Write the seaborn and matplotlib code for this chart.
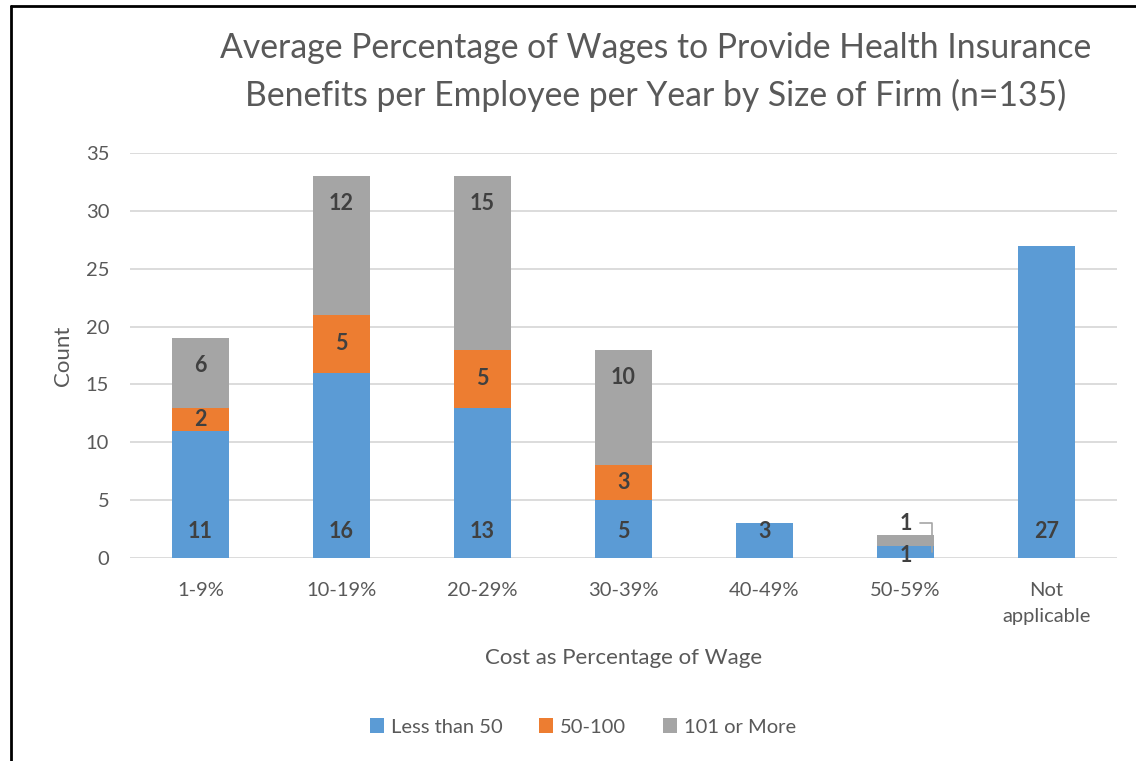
import matplotlib
matplotlib.use("Agg")
import matplotlib.pyplot as plt
from matplotlib.lines import Line2D
from matplotlib.patches import Patch
import seaborn as sns
import pandas as pd

# Survey counts by cost bracket and firm size
categories = ["1-9%", "10-19%", "20-29%", "30-39%", "40-49%", "50-59%", "Not\napplicable"]
less_than_50 = [11, 16, 13, 5, 3, 1, 27]
from_50_to_100 = [2, 5, 5, 3, 0, 0, 0]
over_100 = [6, 12, 15, 10, 0, 1, 0]
series_names = ["Less than 50", "50-100", "101 or More"]
y_ticks = [0, 5, 10, 15, 20, 25, 30, 35]

title_lines = ["Average Percentage of Wages to Provide Health Insurance",
               "Benefits per Employee per Year by Size of Firm (n=135)"]
x_label = "Cost as Percentage of Wage"
y_label = "Count"

colors = ["#5B9BD5", "#ED7D31", "#A5A5A5"]
text_gray = "#595959"
label_dark = "#404040"
grid_gray = "#D9D9D9"
bar_width = 0.4

sns.set_theme(style="white")
plt.rcParams["font.family"] = ["Lato", "DejaVu Sans"]

fig = plt.figure(figsize=(11.36, 7.61), dpi=100)
ax = fig.add_axes([130 / 1136, 1 - 558 / 761, (1117 - 130) / 1136, (558 - 153) / 761])

df = pd.DataFrame({"category": categories, "s0": less_than_50,
                   "s1": from_50_to_100, "s2": over_100})
bottoms1 = df["s0"]
bottoms2 = df["s0"] + df["s1"]

sns.barplot(data=df, x="category", y="s0", color=colors[0], width=bar_width,
            ax=ax, saturation=1, linewidth=0, zorder=3)
sns.barplot(data=df, x="category", y="s1", bottom=bottoms1, color=colors[1],
            width=bar_width, ax=ax, saturation=1, linewidth=0, zorder=3)
sns.barplot(data=df, x="category", y="s2", bottom=bottoms2, color=colors[2],
            width=bar_width, ax=ax, saturation=1, linewidth=0, zorder=3)

ax.set_ylim(0, 35)
ax.set_xlim(-0.5, 6.5)
ax.set_yticks(y_ticks)
ax.set_xticks(range(len(categories)))
ax.set_xticklabels(categories, linespacing=1.7)
ax.yaxis.grid(True, color=grid_gray, linewidth=1.3, zorder=0)
ax.set_axisbelow(True)
for side in ["top", "right", "left", "bottom"]:
    ax.spines[side].set_visible(False)
ax.tick_params(axis="both", length=0, labelsize=14.5, colors=text_gray)
ax.tick_params(axis="x", pad=17)
ax.tick_params(axis="y", pad=15)
ax.set_xlabel(x_label, fontsize=16, color=text_gray, labelpad=16)
ax.set_ylabel(y_label, fontsize=16, color=text_gray, labelpad=9)

label_kw = dict(ha="center", fontsize=15.5, fontweight="bold", color=label_dark, zorder=5)
for i in range(len(categories)):
    v0, v1, v2 = less_than_50[i], from_50_to_100[i], over_100[i]
    # first series: label sits near the base of the bar
    if v0 > 0:
        y0 = 2.3 if v0 >= 3 else 0.25
        ax.text(i, y0, str(v0), va="center", **label_kw)
    # middle series: centred in its segment
    if v1 > 0:
        ax.text(i, v0 + v1 / 2, str(v1), va="center", **label_kw)
    # top series: inside the end of the bar, or callout if too short
    if v2 > 0:
        top = v0 + v1 + v2
        if v2 >= 3:
            ax.text(i, top - 2.4, str(v2), va="center", **label_kw)
        else:
            ly = top + 1.0
            ax.text(i, ly, str(v2), va="center", **label_kw)
            edge = i + bar_width / 2 - 0.01
            ax.plot([i + 0.1, edge, edge], [ly, ly, 0.5],
                    color="#A5A5A5", linewidth=1.2, zorder=4, clip_on=False)

# title
fig.text(656 / 1136, 1 - 48 / 761, title_lines[0], ha="center", va="center",
         fontsize=24.3, color=text_gray)
fig.text(656 / 1136, 1 - 95 / 761, title_lines[1], ha="center", va="center",
         fontsize=24.3, color=text_gray)

# legend
handles = [Patch(facecolor=c, edgecolor="none") for c in colors]
fig.legend(handles, series_names, loc="center", bbox_to_anchor=(583 / 1136, 1 - 727 / 761),
           ncol=3, frameon=False, fontsize=14.5, labelcolor=text_gray,
           handlelength=0.7, handleheight=0.7, handletextpad=0.35, columnspacing=1.8)

# outer frame on top and left edges
fig.add_artist(Line2D([11 / 1136, 1], [1 - 6 / 761, 1 - 6 / 761], transform=fig.transFigure,
                      color="black", linewidth=2))
fig.add_artist(Line2D([11 / 1136, 11 / 1136], [0, 1 - 6 / 761], transform=fig.transFigure,
                      color="black", linewidth=2))

fig.savefig("out.png", dpi=100, facecolor="white")
